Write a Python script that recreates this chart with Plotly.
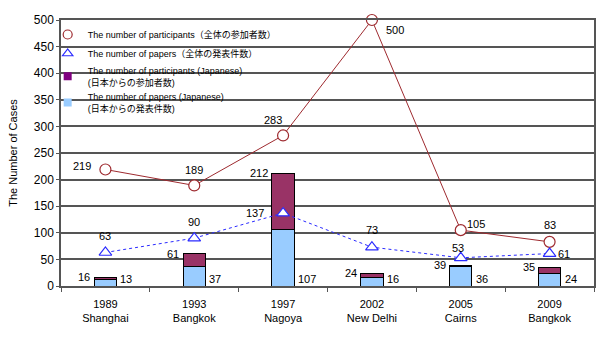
import plotly.graph_objects as go

years = ["1989", "1993", "1997", "2002", "2005", "2009"]
cities = ["Shanghai", "Bangkok", "Nagoya", "New Delhi", "Cairns", "Bangkok"]
participants_total = [219, 189, 283, 500, 105, 83]
papers_total = [63, 90, 137, 73, 53, 61]
participants_jp = [16, 61, 212, 24, 39, 35]
papers_jp = [13, 37, 107, 16, 36, 24]

cats = [f"{y}<br>{c}" for y, c in zip(years, cities)]
jp_extra = [p - q for p, q in zip(participants_jp, papers_jp)]

FONT = "Liberation Sans, Arial, Noto Sans CJK JP, sans-serif"
RED = "#9E2A2F"
BLUE = "#2B2BFF"
MAROON = "#993366"
LIGHT = "#99CCFF"

fig = go.Figure()

# bars (stacked): Japanese papers + remainder of Japanese participants
fig.add_trace(go.Bar(x=cats, y=papers_jp, marker=dict(color=LIGHT, line=dict(color="black", width=1)),
                     width=0.25, showlegend=False, hoverinfo="skip"))
fig.add_trace(go.Bar(x=cats, y=jp_extra, marker=dict(color=MAROON, line=dict(color="black", width=1)),
                     width=0.25, showlegend=False, hoverinfo="skip"))

fig.add_trace(go.Scatter(x=cats, y=participants_total, mode="lines+markers", showlegend=False,
                         line=dict(color=RED, width=1), cliponaxis=False,
                         marker=dict(symbol="circle", size=11, color="white", line=dict(color=RED, width=1.2))))
fig.add_trace(go.Scatter(x=cats, y=papers_total, mode="lines+markers", showlegend=False,
                         line=dict(color=BLUE, width=1, dash="dot"), cliponaxis=False,
                         marker=dict(symbol="triangle-up", size=11, color="white", line=dict(color=BLUE, width=1.2))))

# legend entries (markers only)
legend_items = [
    ("The number of participants（全体の参加者数）", dict(symbol="circle", size=9, color="white", line=dict(color=RED, width=1.2))),
    ("The number of papers（全体の発表件数）", dict(symbol="triangle-up", size=9, color="white", line=dict(color=BLUE, width=1.2))),
    ("The number of participants (Japanese)<br>(日本からの参加者数)", dict(symbol="square", size=8, color="#800080")),
    ("The number of papers (Japanese)<br>(日本からの発表件数)", dict(symbol="square", size=8, color=LIGHT)),
]
for name, mk in legend_items:
    fig.add_trace(go.Scatter(x=[None], y=[None], mode="markers", name=name, marker=mk))

ann = []
lab_font = dict(family=FONT, size=11, color="black")
# offsets (pixels) for labels
pt_off = [(-23, 3), (0, 15), (-10, 15), (23, -10), (15, 6), (0, 17)]
pp_off = [(0, 16), (0, 16), (-28, 0), (0, 17), (-3, 10), (14, 0)]
for c, v, (dx, dy) in zip(cats, participants_total, pt_off):
    ann.append(dict(x=c, y=v, text=str(v), showarrow=False, xshift=dx, yshift=dy, font=lab_font))
for c, v, (dx, dy) in zip(cats, papers_total, pp_off):
    ann.append(dict(x=c, y=v, text=str(v), showarrow=False, xshift=dx, yshift=dy, font=lab_font))
for c, v in zip(cats, participants_jp):
    ann.append(dict(x=c, y=v, text=str(v), showarrow=False, xanchor="right", xshift=-13, yshift=0, font=lab_font))
for c, v in zip(cats, papers_jp):
    ann.append(dict(x=c, y=0, text=str(v), showarrow=False, xanchor="left", xshift=13, yshift=7, font=lab_font))

fig.update_layout(
    width=600, height=339,
    margin=dict(l=61, r=4, t=20, b=53),
    paper_bgcolor="white", plot_bgcolor="white",
    barmode="stack",
    font=dict(family=FONT, size=11, color="black"),
    showlegend=True,
    legend=dict(x=-0.025, y=1, xanchor="left", yanchor="top", bgcolor="rgba(0,0,0,0)",
                font=dict(family=FONT, size=9, color="black"), traceorder="normal",
                tracegroupgap=0),
    annotations=ann,
    xaxis=dict(type="category", showgrid=False, showline=True, linecolor="#555555", linewidth=1.5,
               mirror=True, ticks="outside", tickson="boundaries", ticklen=4, tickcolor="#555555",
               tickfont=dict(family=FONT, size=11), ticklabelstandoff=7, range=[-0.5, 5.5]),
    yaxis=dict(range=[0, 500], dtick=50, showgrid=True, gridcolor="#555555", gridwidth=1.5,
               showline=True, linecolor="#555555", linewidth=1.5, mirror=True,
               ticks="outside", ticklen=3, tickcolor="#555555", zeroline=False,
               tickfont=dict(family=FONT, size=12),
               title=dict(text="The Number of Cases", font=dict(family=FONT, size=11), standoff=14)),
)

fig.write_html("out.html")
